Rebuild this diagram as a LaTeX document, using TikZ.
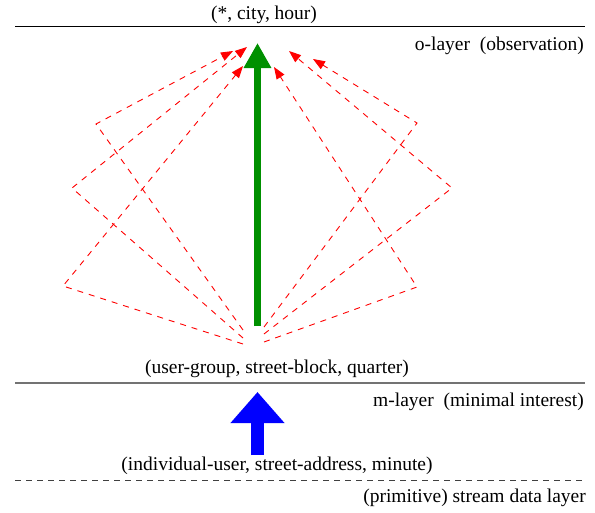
\documentclass[tikz,border=0pt]{standalone}
\usepackage{fontspec}
\setmainfont{Liberation Serif}
\usetikzlibrary{arrows.meta}
\definecolor{arrowgreen}{RGB}{0,144,0}
\begin{document}
\begin{tikzpicture}[x=1pt,y=-1pt,
  lbl/.style={inner sep=0pt, font=\fontsize{19.5}{22}\selectfont},
  reddash/.style={red, line width=0.9pt, dash pattern=on 6pt off 6pt, -{Triangle[length=12pt,width=9pt]}},
  greenarrow/.style={arrowgreen, line width=6.5pt, -{Triangle[length=25pt,width=26pt]}},
  bluearrow/.style={blue, line width=13.5pt, -{Triangle[length=31pt,width=52pt]}},
]
\useasboundingbox (0,0) rectangle (595,512);

% layer lines
\draw[black, line width=1pt] (15,26) -- (585,26);
\draw[black!55, line width=1.2pt] (15,383) -- (585,383);
\draw[black!75, line width=1pt, dash pattern=on 6pt off 5pt] (15,480) -- (585,480);

% labels
\node[lbl] (top) at (264,15) {(*, city, hour)};
\node[lbl, anchor=east] (olayer) at (584,46) {o-layer\ \ (observation)};
\node[lbl] (mid) at (277,369) {(user-group, street-block, quarter)};
\node[lbl, anchor=east] (mlayer) at (584,402) {m-layer\ \ (minimal interest)};
\node[lbl] (low) at (277,466) {(individual-user, street-address, minute)};
\node[lbl, anchor=east] (slayer) at (586,498) {(primitive) stream data layer};

% red path coordinates
\coordinate (bL1) at (243,330); \coordinate (cL1) at (96,124);  \coordinate (tL1) at (233,51);
\coordinate (bL2) at (243,338); \coordinate (cL2) at (72,188);  \coordinate (tL2) at (247,47);
\coordinate (bL3) at (243,344); \coordinate (cL3) at (63,286);  \coordinate (tL3) at (243,66);
\coordinate (bR1) at (264,327); \coordinate (cR1) at (417,123); \coordinate (tR1) at (313,59);
\coordinate (bR2) at (264,334); \coordinate (cR2) at (452,188); \coordinate (tR2) at (289,51);
\coordinate (bR3) at (264,342); \coordinate (cR3) at (417,287); \coordinate (tR3) at (274,67);

\draw[reddash] (bL1) -- (cL1) -- (tL1);
\draw[reddash] (bL2) -- (cL2) -- (tL2);
\draw[reddash] (bL3) -- (cL3) -- (tL3);
\draw[reddash] (bR1) -- (cR1) -- (tR1);
\draw[reddash] (bR2) -- (cR2) -- (tR2);
\draw[reddash] (bR3) -- (cR3) -- (tR3);

% main arrows
\coordinate (gs) at (257.5,326); \coordinate (gt) at (257.5,43);
\draw[greenarrow] (gs) -- (gt);
\coordinate (bs) at (257.5,455); \coordinate (bt) at (257.5,392);
\draw[bluearrow] (bs) -- (bt);
\end{tikzpicture}
\end{document}
